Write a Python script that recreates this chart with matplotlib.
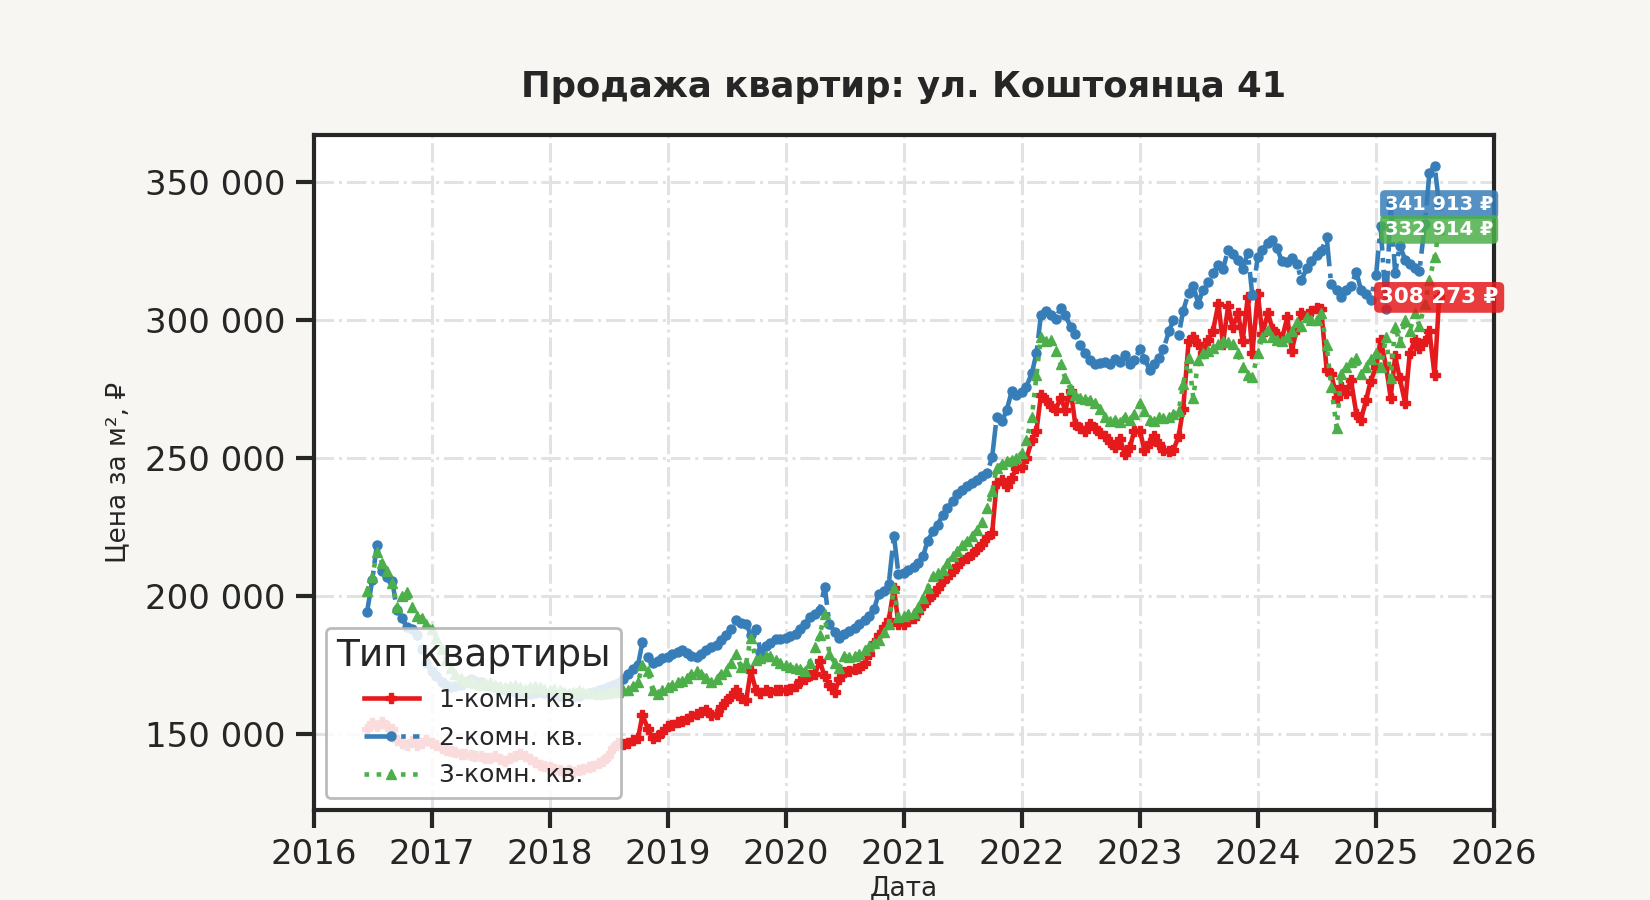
import numpy as np
import pandas as pd
import matplotlib
matplotlib.use("Agg")
import matplotlib.pyplot as plt
import matplotlib.dates as mdates
from matplotlib.ticker import FuncFormatter

plt.rcParams["font.family"] = ["DejaVu Sans", "Noto Sans"]

# даты: 1-е и 15-е число каждого месяца
dates = pd.date_range("2016-06-15", "2025-07-15", freq="SMS")

# цена за м², тыс. руб.
price_1k = [
    152, 154, 153, 154.5, 153, 152, 148, 147, 146, 147.5, 146, 147, 148,  # 2016
    147, 146, 145, 144.5, 144, 143.5, 143, 143, 142.5, 142, 142, 141.5,
    141.5, 142, 141, 140.5, 141.5, 142, 143, 142, 141, 140, 139, 138.5,  # 2017
    138, 137.5, 137, 136.5, 137, 136.5, 137, 137.5, 138, 138.5, 139.5, 140.5,
    142, 145, 147, 146.5, 147, 148, 148.5, 157, 152, 148.5, 149.5, 151,  # 2018
    153, 153.5, 154.5, 155, 155.5, 156.5, 157.5, 158, 159, 157, 157.5, 160,
    162, 164, 166, 163, 162.5, 173, 166, 165, 166, 165.5, 166, 166,  # 2019
    166, 166.5, 167.5, 169.5, 170, 171.5, 172, 176.5, 171, 168, 165.5, 170,
    172.5, 173, 173.5, 174, 176, 179, 183, 186, 189, 191.5, 203, 190,  # 2020
    190, 191, 192, 194.5, 197, 199, 201, 203, 205.5, 207, 209, 211,
    213, 214, 215.5, 217, 219, 221.5, 223, 241, 242, 240, 243, 246.5,  # 2021
    247, 250, 256.5, 260, 273, 271, 269, 267.5, 272, 267.5, 274.5, 262.5,
    261, 260, 262.5, 261, 259, 258, 256, 254, 257, 251.5, 254, 260,  # 2022
    260, 253, 255.5, 258, 255, 253, 252.5, 253, 258, 268, 292.5, 294,
    291.5, 288, 293, 296, 306, 291.5, 305, 297.5, 302.5, 292.5, 308.5, 288,  # 2023
    309.5, 295, 302.5, 297, 295, 293, 301, 289, 297, 302.5, 301, 303.5,
    304.5, 304, 282, 280.5, 272, 276, 273.5, 278.5, 266, 264, 271, 278,  # 2024
    283, 293, 283, 272, 287, 279, 270, 288, 293, 290, 292.5, 296, 280, 308.273,  # 2025
]
price_2k = [
    194.5, 206, 218.5, 209, 207, 205.5, 195, 192, 189, 188, 186, 181, 176,  # 2016
    173, 171, 169, 168, 167, 167.5, 168, 169, 170, 169.5, 169, 168,
    167.5, 167, 166.5, 166, 166, 165.5, 165, 165, 164.5, 165, 165.5, 165,  # 2017
    165, 164.5, 164, 164.5, 164, 163.5, 164, 164.5, 165, 165.5, 166, 166.5,
    167, 168, 168.5, 170, 172, 173.5, 175, 183.5, 178, 176, 176.5, 177.5,  # 2018
    178, 179, 180, 180.5, 179.5, 178.5, 178, 179, 180.5, 181.5, 182.5, 184,
    186, 188, 191.5, 190.5, 190, 186, 188, 180, 182, 183, 184.5, 184.5,  # 2019
    185, 185.5, 186.5, 188, 190, 192.5, 193.5, 195, 203.5, 190, 187, 185,
    186.5, 187.5, 188.5, 190, 191.5, 193, 195.5, 201, 202, 204.5, 222, 208,  # 2020
    208.5, 209.5, 210.5, 212, 214.5, 220, 223.5, 226, 229.5, 232, 234.5, 237,
    238.5, 240, 241, 242, 243.5, 244.5, 250.5, 265, 263.5, 267.5, 274.5, 273,  # 2021
    274, 276, 281, 288, 302, 303.5, 302, 300.5, 304.5, 302, 297.5, 295,
    291, 288, 285.5, 284, 284.5, 285, 284, 286, 285, 287.5, 284, 285.5,  # 2022
    289.5, 286, 282, 284, 286.5, 289.5, 296, 300, 294.5, 303.5, 310, 312.5,
    306, 311, 314, 317, 320, 318.5, 325.5, 324, 322, 318.5, 324.5, 309,  # 2023
    323, 325.5, 328, 329, 326, 321.5, 321, 322.5, 320.5, 314.5, 319, 321.5,
    323.5, 325, 330, 313, 311, 308.5, 311, 312.5, 317.5, 311, 309.5, 307.5,  # 2024
    316.5, 334, 304, 342, 317, 327, 322, 320.5, 319, 318, 335, 353.5, 356, 341.913,  # 2025
]
price_3k = [
    202, 207, 216, 212, 209, 205, 196, 200, 201.5, 196, 193, 192, 190,  # 2016
    188, 185, 181, 177, 174, 172, 170.5, 169.5, 169, 168.5, 168, 168.5,
    169, 168, 167.5, 167, 167.5, 168, 167, 166.5, 167, 167.5, 167, 166.5,  # 2017
    166, 166.5, 166, 165.5, 165, 165.5, 166, 165.5, 165, 165, 164.5, 165,
    165, 165.5, 165.5, 166, 166, 167.5, 169, 175, 173, 166, 164.5, 166,  # 2018
    167, 168, 169, 169.5, 170.5, 172, 173, 172, 170.5, 169, 170, 172,
    173, 176, 179, 174.5, 176, 185, 177, 177.5, 178.5, 178.5, 177, 176,  # 2019
    175, 174.5, 174, 173.5, 173, 176, 181.5, 186, 193.5, 179, 176, 174,
    178.5, 178, 178.5, 179, 180.5, 182, 183, 184, 187, 190, 203, 192.5,  # 2020
    193, 193.5, 194, 196, 199.5, 203, 207.5, 208.5, 209.5, 212, 214.5, 216.5,
    218.5, 220, 222, 224, 227, 232, 238, 246.5, 248, 249, 249.5, 250,  # 2021
    252, 256.5, 265, 280, 294, 292.5, 293, 289, 284, 279, 275, 273,
    272, 271.5, 271, 270, 268, 265, 263.5, 264, 263, 265, 264, 266,  # 2022
    270, 267, 264, 263.5, 265, 264.5, 265, 266, 267, 277, 286.5, 272,
    285.5, 288, 289, 290, 291.5, 292.5, 292, 291.5, 288, 283, 280, 279.5,  # 2023
    288, 294, 296.5, 294, 293, 292.5, 294, 296, 299.5, 298, 301, 300,
    300, 302.5, 291, 276, 261, 280.5, 283, 285, 286.5, 280.5, 283, 286,  # 2024
    288, 283, 294, 279, 297.5, 292, 300, 296, 302.5, 298, 306, 314.5, 323, 332.914,  # 2025
]

labels = ["1-комн. кв.", "2-комн. кв.", "3-комн. кв."]
colors = ["#e41a1c", "#377eb8", "#4daf4a"]

df = pd.DataFrame({
    labels[0]: np.array(price_1k) * 1000,
    labels[1]: np.array(price_2k) * 1000,
    labels[2]: np.array(price_3k) * 1000,
}, index=dates)

dark = "#262626"
fig = plt.figure(figsize=(16.5, 9), dpi=100, facecolor="#f7f6f2")
ax = fig.add_axes([0.19, 0.10, 0.7155, 0.75])
ax.set_facecolor("white")

styles = [("-", "P", 6.5), ("-.", "o", 6.5), (":", "^", 7.5)]
for lab, col, (ls, mk, ms) in zip(labels, colors, styles):
    ax.plot(df.index, df[lab], color=col, ls=ls, lw=3.3, marker=mk, ms=ms, label=lab)

# подписи последних значений
label_sizes = [15.5, 14, 14]
for lab, col, fs in zip(labels, colors, label_sizes):
    last = df[lab].iloc[-1]
    ax.annotate(f"{last:,.0f} ₽".replace(",", " "), xy=(df.index[-1], last),
                ha="center", va="center", fontsize=fs, fontweight="bold", color="white",
                bbox=dict(boxstyle="round,pad=0.25", fc=col, ec="none", alpha=0.85))

ax.set_xlim(pd.Timestamp("2016-01-01"), pd.Timestamp("2026-01-01"))
ax.set_ylim(122600, 367100)
ax.xaxis.set_major_locator(mdates.YearLocator())
ax.xaxis.set_major_formatter(mdates.DateFormatter("%Y"))
ax.yaxis.set_major_formatter(FuncFormatter(lambda v, p: f"{v:,.0f}".replace(",", " ")))

ax.grid(True, ls="-.", lw=2.2, color="#e2e2e2")
ax.set_axisbelow(True)
for s in ax.spines.values():
    s.set_linewidth(3)
    s.set_color(dark)
ax.tick_params(length=13, width=3, labelsize=24.5, pad=7, colors=dark)

ax.set_title("Продажа квартир: ул. Коштоянца 41", fontsize=25.5, fontweight="bold", pad=27, color=dark)
ax.set_ylabel("Цена за м², ₽", fontsize=19, labelpad=10, color=dark)
ax.set_xlabel("Дата", fontsize=19, labelpad=3, color=dark)

leg = ax.legend(title="Тип квартиры", loc="lower left", fontsize=18, title_fontsize=27,
                framealpha=0.85, edgecolor="#b0b0b0", handlelength=2.2, labelspacing=0.55)
leg.get_frame().set_linewidth(2)
for t in leg.get_texts():
    t.set_color(dark)
leg.get_title().set_color(dark)

fig.savefig("out.png", dpi=100, facecolor=fig.get_facecolor())
